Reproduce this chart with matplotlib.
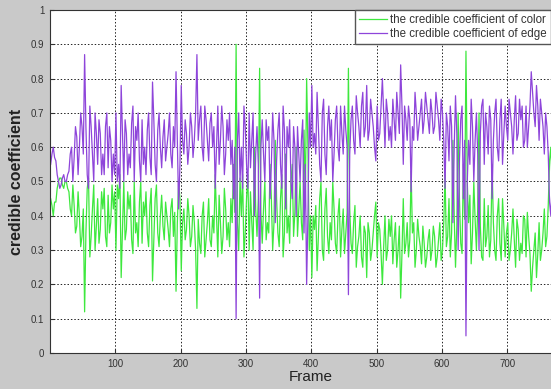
import numpy as np
import matplotlib
matplotlib.use("Agg")
import matplotlib.pyplot as plt

plt.rcParams['font.family'] = ['Liberation Sans', 'DejaVu Sans']

frames_a = list(range(1, 770, 4))
frames_b = list(range(3, 770, 4))

edge_a = [
    # 1..97
    0.55, 0.60, 0.56, 0.50, 0.49, 0.52, 0.50, 0.53, 0.60, 0.57, 0.63, 0.60, 0.66, 0.87, 0.52, 0.72, 0.58, 0.70, 0.55, 0.64, 0.58, 0.66, 0.54, 0.62, 0.58,
    # 101..197
    0.70, 0.55, 0.78, 0.50, 0.64, 0.58, 0.67, 0.50, 0.62, 0.56, 0.68, 0.60, 0.65, 0.57, 0.79, 0.55, 0.65, 0.60, 0.63, 0.56, 0.64, 0.58, 0.66, 0.82, 0.42,
    # 201..297
    0.78, 0.58, 0.64, 0.60, 0.66, 0.62, 0.87, 0.68, 0.60, 0.72, 0.62, 0.67, 0.60, 0.48, 0.72, 0.62, 0.66, 0.58, 0.62, 0.55, 0.45, 0.10, 0.70, 0.60, 0.72,
    # 301..397
    0.55, 0.70, 0.62, 0.40, 0.66, 0.16, 0.68, 0.50, 0.62, 0.45, 0.70, 0.38, 0.65, 0.55, 0.72, 0.42, 0.60, 0.50, 0.66, 0.40, 0.58, 0.62, 0.35, 0.20, 0.70,
    # 401..497
    0.78, 0.64, 0.76, 0.55, 0.70, 0.58, 0.66, 0.62, 0.50, 0.68, 0.60, 0.72, 0.58, 0.65, 0.17, 0.68, 0.62, 0.75, 0.66, 0.72, 0.63, 0.78, 0.65, 0.70, 0.60,
    # 501..597
    0.72, 0.64, 0.80, 0.60, 0.70, 0.66, 0.74, 0.62, 0.70, 0.84, 0.55, 0.68, 0.72, 0.47, 0.62, 0.70, 0.66, 0.74, 0.68, 0.72, 0.64, 0.70, 0.66, 0.72, 0.62,
    # 601..697
    0.70, 0.48, 0.66, 0.72, 0.38, 0.75, 0.30, 0.68, 0.45, 0.05, 0.62, 0.74, 0.50, 0.70, 0.30, 0.72, 0.55, 0.66, 0.72, 0.45, 0.70, 0.60, 0.68, 0.55, 0.72,
    # 701..769
    0.62, 0.70, 0.58, 0.75, 0.64, 0.68, 0.60, 0.72, 0.66, 0.82, 0.70, 0.78, 0.62, 0.70, 0.58, 0.66, 0.44, 0.50,
]

edge_b = [
    # 3..99
    0.58, 0.57, 0.52, 0.48, 0.51, 0.50, 0.52, 0.58, 0.50, 0.66, 0.52, 0.70, 0.58, 0.66, 0.48, 0.66, 0.50, 0.64, 0.68, 0.52, 0.52, 0.70, 0.66, 0.50, 0.52,
    # 103..199
    0.50, 0.48, 0.64, 0.68, 0.52, 0.54, 0.72, 0.66, 0.70, 0.50, 0.55, 0.52, 0.70, 0.52, 0.68, 0.50, 0.70, 0.54, 0.68, 0.60, 0.70, 0.54, 0.60, 0.62, 0.55,
    # 203..299
    0.62, 0.68, 0.55, 0.70, 0.57, 0.70, 0.62, 0.72, 0.56, 0.68, 0.56, 0.70, 0.66, 0.60, 0.55, 0.72, 0.52, 0.68, 0.70, 0.62, 0.60, 0.62, 0.50, 0.48, 0.66,
    # 303..399
    0.48, 0.54, 0.70, 0.58, 0.55, 0.60, 0.58, 0.68, 0.66, 0.55, 0.62, 0.56, 0.70, 0.48, 0.65, 0.66, 0.68, 0.45, 0.60, 0.66, 0.50, 0.68, 0.55, 0.40, 0.60,
    # 403..499
    0.60, 0.58, 0.66, 0.50, 0.74, 0.52, 0.72, 0.68, 0.58, 0.72, 0.56, 0.64, 0.72, 0.60, 0.58, 0.72, 0.58, 0.70, 0.60, 0.76, 0.66, 0.62, 0.74, 0.66, 0.56,
    # 503..599
    0.62, 0.72, 0.70, 0.74, 0.62, 0.60, 0.68, 0.76, 0.64, 0.72, 0.72, 0.62, 0.68, 0.66, 0.76, 0.62, 0.70, 0.64, 0.76, 0.68, 0.74, 0.64, 0.76, 0.68, 0.74,
    # 603..699
    0.62, 0.70, 0.56, 0.66, 0.60, 0.64, 0.56, 0.72, 0.62, 0.50, 0.55, 0.66, 0.62, 0.58, 0.64, 0.74, 0.70, 0.58, 0.68, 0.62, 0.74, 0.56, 0.74, 0.64, 0.66,
    # 703..767
    0.74, 0.66, 0.68, 0.62, 0.74, 0.72, 0.62, 0.60, 0.72, 0.76, 0.66, 0.72, 0.74, 0.66, 0.70, 0.58, 0.40,
]

color_a = [
    # 1..97
    0.45, 0.40, 0.44, 0.50, 0.51, 0.48, 0.50, 0.47, 0.40, 0.43, 0.37, 0.40, 0.34, 0.12, 0.48, 0.28, 0.42, 0.30, 0.45, 0.36, 0.42, 0.34, 0.46, 0.38, 0.42,
    # 101..197
    0.30, 0.45, 0.22, 0.50, 0.36, 0.42, 0.33, 0.50, 0.38, 0.44, 0.32, 0.40, 0.35, 0.43, 0.21, 0.45, 0.35, 0.40, 0.37, 0.44, 0.36, 0.42, 0.34, 0.18, 0.50,
    # 201..297
    0.24, 0.42, 0.36, 0.40, 0.34, 0.38, 0.13, 0.32, 0.40, 0.28, 0.38, 0.33, 0.40, 0.52, 0.28, 0.38, 0.34, 0.42, 0.38, 0.45, 0.55, 0.90, 0.30, 0.40, 0.28,
    # 301..397
    0.45, 0.30, 0.38, 0.60, 0.34, 0.83, 0.32, 0.50, 0.38, 0.55, 0.30, 0.62, 0.35, 0.45, 0.28, 0.58, 0.40, 0.50, 0.34, 0.60, 0.42, 0.38, 0.65, 0.80, 0.30,
    # 401..497
    0.22, 0.36, 0.24, 0.45, 0.30, 0.42, 0.34, 0.38, 0.50, 0.32, 0.40, 0.28, 0.42, 0.35, 0.83, 0.32, 0.38, 0.25, 0.34, 0.28, 0.37, 0.22, 0.35, 0.30, 0.40,
    # 501..597
    0.28, 0.36, 0.20, 0.40, 0.30, 0.34, 0.26, 0.38, 0.30, 0.16, 0.45, 0.32, 0.28, 0.53, 0.38, 0.30, 0.34, 0.26, 0.32, 0.28, 0.36, 0.30, 0.34, 0.28, 0.38,
    # 601..697
    0.30, 0.52, 0.34, 0.28, 0.62, 0.25, 0.70, 0.32, 0.55, 0.88, 0.38, 0.26, 0.50, 0.30, 0.70, 0.28, 0.45, 0.34, 0.28, 0.55, 0.30, 0.40, 0.32, 0.45, 0.28,
    # 701..769
    0.38, 0.30, 0.42, 0.25, 0.36, 0.32, 0.40, 0.28, 0.34, 0.18, 0.30, 0.22, 0.38, 0.30, 0.42, 0.34, 0.56, 0.48,
]

color_b = [
    # 3..99
    0.43, 0.44, 0.48, 0.51, 0.49, 0.50, 0.48, 0.42, 0.49, 0.35, 0.47, 0.31, 0.42, 0.35, 0.51, 0.34, 0.49, 0.37, 0.32, 0.47, 0.48, 0.31, 0.35, 0.49, 0.47,
    # 103..199
    0.49, 0.52, 0.36, 0.33, 0.47, 0.46, 0.29, 0.35, 0.31, 0.50, 0.44, 0.47, 0.31, 0.48, 0.33, 0.49, 0.31, 0.46, 0.33, 0.40, 0.31, 0.45, 0.41, 0.38, 0.45,
    # 203..299
    0.38, 0.33, 0.45, 0.31, 0.43, 0.30, 0.39, 0.29, 0.44, 0.33, 0.45, 0.31, 0.35, 0.40, 0.46, 0.29, 0.48, 0.33, 0.31, 0.38, 0.41, 0.38, 0.51, 0.52, 0.35,
    # 303..399
    0.52, 0.47, 0.30, 0.42, 0.45, 0.41, 0.42, 0.33, 0.35, 0.45, 0.38, 0.45, 0.31, 0.52, 0.35, 0.35, 0.32, 0.55, 0.41, 0.34, 0.50, 0.33, 0.45, 0.60, 0.40,
    # 403..499
    0.40, 0.43, 0.34, 0.50, 0.27, 0.48, 0.29, 0.33, 0.42, 0.29, 0.45, 0.36, 0.29, 0.41, 0.42, 0.29, 0.43, 0.31, 0.40, 0.25, 0.35, 0.38, 0.27, 0.35, 0.44,
    # 503..599
    0.38, 0.29, 0.31, 0.27, 0.39, 0.40, 0.33, 0.25, 0.37, 0.29, 0.29, 0.38, 0.33, 0.35, 0.25, 0.39, 0.31, 0.37, 0.25, 0.33, 0.27, 0.37, 0.25, 0.33, 0.27,
    # 603..699
    0.38, 0.31, 0.45, 0.35, 0.40, 0.37, 0.45, 0.29, 0.39, 0.50, 0.46, 0.35, 0.39, 0.42, 0.37, 0.27, 0.31, 0.43, 0.33, 0.38, 0.27, 0.45, 0.27, 0.37, 0.35,
    # 703..767
    0.27, 0.35, 0.33, 0.39, 0.27, 0.29, 0.39, 0.41, 0.29, 0.25, 0.35, 0.29, 0.27, 0.35, 0.31, 0.43, 0.60,
]

x_ticks = [100, 200, 300, 400, 500, 600, 700]
y_ticks = [0, 0.1, 0.2, 0.3, 0.4, 0.5, 0.6, 0.7, 0.8, 0.9, 1]
y_tick_labels = ['0', '0.1', '0.2', '0.3', '0.4', '0.5', '0.6', '0.7', '0.8', '0.9', '1']

# merge the two sample sets in frame order
frames_all = np.array(frames_a + frames_b)
order = np.argsort(frames_all)
frames = frames_all[order]
edge = np.array(edge_a + edge_b)[order]
color = np.array(color_a + color_b)[order]

W, H = 551, 389
fig = plt.figure(figsize=(W / 100, H / 100), dpi=100, facecolor='#c9c9c9')
left_px, top_px, bottom_px = 50, 10, 353
px_per_unit = 65.3 / 100
xmax = 800
ax = fig.add_axes([left_px / W, (H - bottom_px) / H, xmax * px_per_unit / W, (bottom_px - top_px) / H])
ax.set_facecolor('white')

ax.plot(frames, color, color='#3ee83e', lw=0.9, label='the credible coefficient of color')
ax.plot(frames, edge, color='#8e45da', lw=0.9, label='the credible coefficient of edge')

ax.set_xlim(0, xmax)
ax.set_ylim(0, 1)
ax.set_xticks(x_ticks)
ax.set_yticks(y_ticks)
ax.set_yticklabels(y_tick_labels)
ax.tick_params(direction='in', labelsize=7, colors='#333333', length=3, pad=4)
ax.grid(True, linestyle=(0, (1.5, 2)), color='#222222', lw=0.7)
for s in ax.spines.values():
    s.set_color('#333333')
    s.set_linewidth(0.8)

ax.set_xlabel('Frame', fontsize=11, color='#222222', labelpad=1)
ax.set_ylabel('credible coefficient', fontsize=11.5, fontweight='bold', color='#222222', labelpad=5)

leg = ax.legend(loc='upper right', bbox_to_anchor=(1.0, 1 - top_px / H), bbox_transform=fig.transFigure,
                borderaxespad=0, fontsize=8.3, fancybox=False, framealpha=1, edgecolor='#555555',
                handlelength=2.4, handletextpad=0.3, borderpad=0.35, labelspacing=0.15)
for t in leg.get_texts():
    t.set_color('#333333')

fig.savefig('out.png', dpi=100, facecolor=fig.get_facecolor())
